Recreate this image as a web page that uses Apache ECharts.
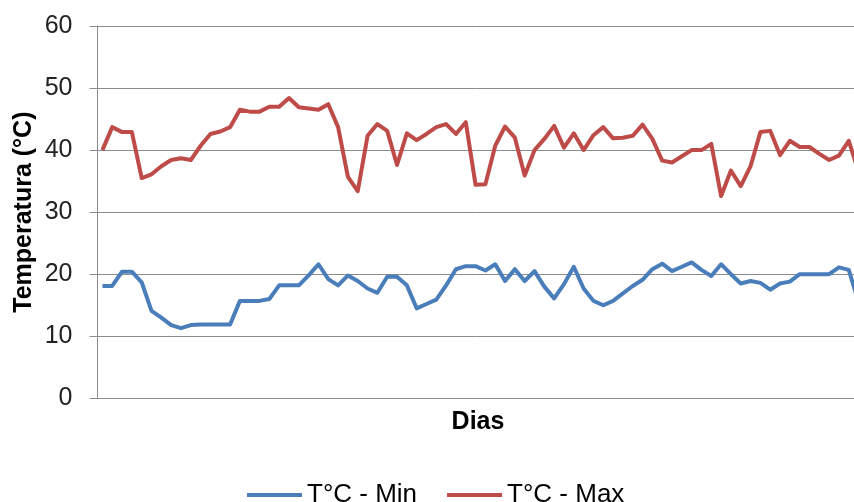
<!DOCTYPE html>
<html>
<head>
<meta charset="utf-8">
<script src="https://cdn.jsdelivr.net/npm/echarts@6/dist/echarts.min.js"></script>
<style>
html,body{margin:0;padding:0;background:#fff;}
#chart{width:854px;height:502px;}
</style>
</head>
<body>
<div id="chart"></div>
<script>
var days = [];
for (var d = 1; d <= 78; d++) { days.push(String(d)); }

var tempMin = [18.1,18.1,20.4,20.4,18.7,14.1,13.0,11.8,11.3,11.8,
  11.9,11.9,11.9,11.9,15.7,15.7,15.7,16.0,18.2,18.2,
  18.2,19.8,21.6,19.2,18.2,19.8,18.9,17.7,17.0,19.6,
  19.6,18.2,14.5,15.2,15.9,18.2,20.8,21.3,21.3,20.6,
  21.6,18.9,20.8,18.9,20.5,18.0,16.1,18.4,21.2,17.7,
  15.7,15.0,15.7,16.9,18.1,19.1,20.8,21.7,20.5,21.2,
  21.9,20.7,19.7,21.6,20.0,18.5,18.9,18.6,17.5,18.5,
  18.8,20.0,20.0,20.0,20.0,21.1,20.7,15.5];

var tempMax = [40.0,43.7,42.9,42.9,35.5,36.1,37.4,38.4,38.7,38.4,
  40.7,42.6,43.0,43.7,46.5,46.2,46.2,47.0,47.0,48.4,
  46.9,46.7,46.5,47.4,43.7,35.7,33.4,42.3,44.2,43.1,
  37.6,42.7,41.6,42.6,43.7,44.2,42.6,44.5,34.4,34.5,
  40.7,43.8,42.0,35.9,40.0,41.8,43.9,40.4,42.7,40.0,
  42.4,43.7,41.9,42.0,42.3,44.1,41.8,38.3,38.0,39.0,
  40.0,40.0,41.0,32.6,36.7,34.2,37.4,42.9,43.1,39.2,
  41.5,40.5,40.5,39.4,38.4,39.1,41.5,36.5];

var yTicks = [0, 60, 10];
var seriesNames = ['T°C - Min', 'T°C - Max'];

var chart = echarts.init(document.getElementById('chart'), null, {renderer: 'canvas'});
var font = 'Liberation Sans, Arial, sans-serif';
chart.setOption({
  animation: false,
  backgroundColor: '#ffffff',
  grid: {left: 97.5, top: 26, width: 766, height: 372.3, containLabel: false, outerBoundsMode: 'none'},
  legend: {
    left: 242, top: 477,
    itemWidth: 55, itemHeight: 4, itemGap: 30,
    icon: 'rect',
    textStyle: {fontFamily: font, fontSize: 26, color: '#000'},
    data: seriesNames
  },
  xAxis: {
    type: 'category',
    data: days,
    boundaryGap: true,
    name: 'Dias',
    nameLocation: 'middle',
    nameGap: 11,
    nameTextStyle: {fontFamily: font, fontSize: 25, fontWeight: 'bold', color: '#000', verticalAlign: 'top', padding: [0, 5, 0, 0]},
    axisLine: {show: true, lineStyle: {color: '#8c8c8c', width: 1}},
    axisTick: {show: false},
    axisLabel: {show: false},
    splitLine: {show: false}
  },
  yAxis: {
    type: 'value',
    min: yTicks[0], max: yTicks[1], interval: yTicks[2],
    name: 'Temperatura (°C)',
    nameLocation: 'middle',
    nameGap: 61,
    nameMoveOverlap: false,
    nameTextStyle: {fontFamily: font, fontSize: 25, fontWeight: 'bold', color: '#000'},
    axisLine: {show: true, lineStyle: {color: '#8c8c8c', width: 1}},
    axisTick: {show: true, length: 8, lineStyle: {color: '#8c8c8c'}},
    axisLabel: {fontFamily: font, fontSize: 25, color: '#222', margin: 25},
    splitLine: {show: true, lineStyle: {color: '#8c8c8c', width: 1}}
  },
  series: [
    {name: seriesNames[0], type: 'line', data: tempMin, symbol: 'none', smooth: false,
     lineStyle: {color: '#4A7EBB', width: 4, join: 'round'}, itemStyle: {color: '#4A7EBB'}},
    {name: seriesNames[1], type: 'line', data: tempMax, symbol: 'none', smooth: false,
     lineStyle: {color: '#BE4B48', width: 4, join: 'round'}, itemStyle: {color: '#BE4B48'}}
  ]
});
</script>
</body>
</html>
